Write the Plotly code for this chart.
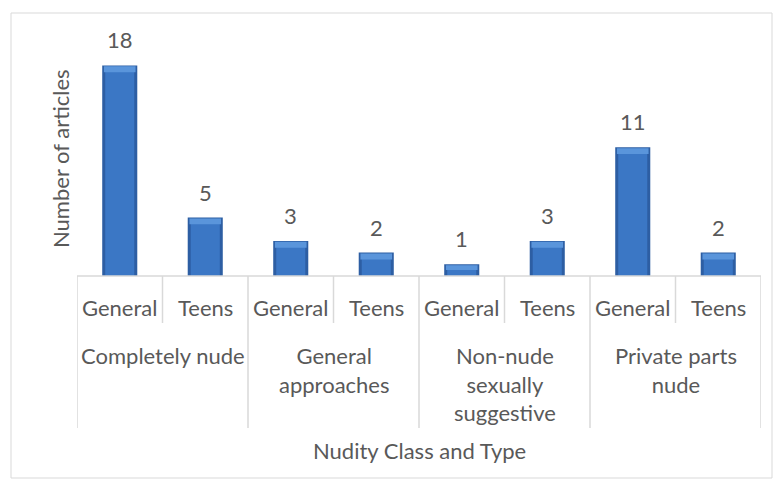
import plotly.graph_objects as go

groups = ["Completely nude", "General<br>approaches", "Non-nude<br>sexually<br>suggestive", "Private parts<br>nude"]
subs = ["General", "Teens"]
values = [18, 5, 3, 2, 1, 3, 11, 2]
sub_labels = [s for g in groups for s in subs]
x_idx = list(range(len(values)))

# page has an 8px body margin; work in reference pixel coords and shift
OFF = 8
W, H = 782 - 2 * OFF, 488 - 2 * OFF
AX_L, AX_R, AX_T, AX_B = 77, 761, 42, 276   # reference pixel positions of plot area
L, R = AX_L - OFF, W - (AX_R - OFF)
T, B = AX_T - OFF, H - (AX_B - OFF)
plot_h = AX_B - AX_T
plot_w = AX_R - AX_L

def py(px):
    return (AX_B - px) / plot_h

def pxx(px):
    return (px - AX_L) / plot_w

font = "Lato, Carlito, Calibri, sans-serif"
grey = "#595959"
line_c = "#d9d9d9"
FS = 22

fig = go.Figure()
fig.add_trace(go.Bar(x=x_idx, y=values, width=0.41, marker=dict(color="#2d5ea3", line=dict(width=0)),
                     hoverinfo="skip"))
fig.add_trace(go.Bar(x=x_idx, y=[v - 0.12 for v in values], width=0.34,
                     marker=dict(color="#3b77c5", line=dict(width=0)), hoverinfo="skip"))
bev = [min(0.5, v * 0.4) for v in values]
fig.add_trace(go.Bar(x=x_idx, y=bev, base=[v - 0.08 - b for v, b in zip(values, bev)], width=0.37,
                     marker=dict(color="#5a95db", line=dict(width=0)), hoverinfo="skip"))

for i, v in enumerate(values):
    fig.add_annotation(x=i, y=v, xref="x", yref="y", text=str(v), showarrow=False,
                       yanchor="bottom", yshift=10, font=dict(family=font, size=FS, color=grey))

shapes = []
shapes.append(dict(type="line", xref="paper", yref="paper", x0=0, x1=1, y0=0, y1=0,
                   line=dict(color=line_c, width=1.5)))
n = len(values)
for k in range(n + 1):
    xb = k - 0.5
    y1 = py(428) if k % 2 == 0 else py(323)
    shapes.append(dict(type="line", xref="x", yref="paper", x0=xb, x1=xb, y0=0, y1=y1,
                       line=dict(color=line_c, width=1.5)))
shapes.append(dict(type="rect", xref="paper", yref="paper", x0=pxx(11), x1=pxx(772), y0=py(478), y1=py(13),
                   line=dict(color=line_c, width=1), fillcolor="rgba(0,0,0,0)", layer="below"))

for i, s in enumerate(sub_labels):
    fig.add_annotation(x=i, y=py(307), xref="x", yref="paper", text=s, showarrow=False,
                       yanchor="middle", font=dict(family=font, size=FS, color=grey))
for j, g in enumerate(groups):
    fig.add_annotation(x=2 * j + 0.5, y=py(340), xref="x", yref="paper", text=g, showarrow=False,
                       yanchor="top", align="center", font=dict(family=font, size=FS, color=grey))

fig.add_annotation(x=0.5, y=py(450), xref="paper", yref="paper", text="Nudity Class and Type", showarrow=False,
                   yanchor="middle", font=dict(family=font, size=FS, color=grey))
fig.add_annotation(x=pxx(60), y=py(159), xref="paper", yref="paper", text="Number of articles", showarrow=False,
                   textangle=-90, xanchor="center", yanchor="middle", font=dict(family=font, size=FS, color=grey))

fig.update_layout(
    width=W, height=H, margin=dict(l=L, r=R, t=T, b=B),
    paper_bgcolor="white", plot_bgcolor="white",
    barmode="overlay", showlegend=False, shapes=shapes,
    xaxis=dict(range=[-0.5, n - 0.5], showticklabels=False, showgrid=False, zeroline=False,
               showline=False, ticks="", fixedrange=True),
    yaxis=dict(range=[0, 20], showticklabels=False, showgrid=False, zeroline=False,
               showline=False, ticks="", fixedrange=True),
)
fig.write_html("out.html")
